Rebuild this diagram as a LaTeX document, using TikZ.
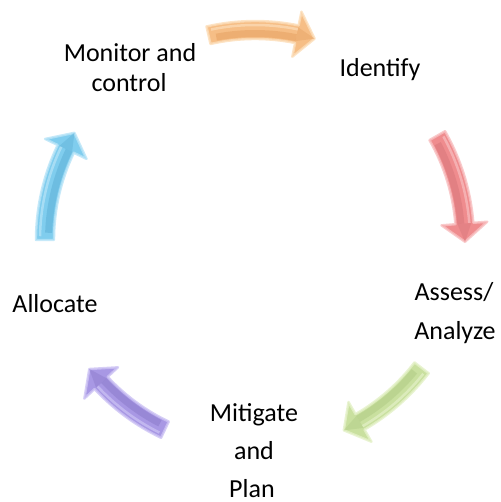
\documentclass[tikz,border=0pt]{standalone}
\usepackage{fontspec}
\setmainfont{Carlito}
\usetikzlibrary{calc}
\definecolor{orB}{HTML}{F6BE86}\definecolor{orL}{HTML}{FCDDB8}\definecolor{orD}{HTML}{E6A263}
\definecolor{reB}{HTML}{EF8C8E}\definecolor{reL}{HTML}{F8BFC0}\definecolor{reD}{HTML}{D8777B}
\definecolor{grB}{HTML}{C9E09F}\definecolor{grL}{HTML}{E4F1C8}\definecolor{grD}{HTML}{B0CB85}
\definecolor{puB}{HTML}{A898E4}\definecolor{puL}{HTML}{CDC3F4}\definecolor{puD}{HTML}{8C7BCB}
\definecolor{blB}{HTML}{80CDEE}\definecolor{blL}{HTML}{B8E4F7}\definecolor{blD}{HTML}{5FB1D7}
\tikzset{lbl/.style={font=\fontsize{26}{31}\selectfont, align=center, inner sep=0pt, text=black}}
\newcommand\cycarrow[3]{%
  \pgfmathsetmacro\hb{#3+5}%
  \pgfmathsetmacro\ta{#2-2}%
  \pgfmathsetmacro\tb{#2-1}%
  \path[fill=#1B, draw=#1L, line width=2.4, line join=round, draw opacity=0.8]
    ($(O)+(#2:219)$) arc[start angle=#2, end angle=\hb, radius=219]
    -- ($(O)+(\hb:233)$) -- ($(O)+(#3:210)$) -- ($(O)+(\hb:187)$)
    -- ($(O)+(\hb:201)$) arc[start angle=\hb, end angle=#2, radius=201] -- cycle;
  \draw[#1D, line width=7, opacity=0.55] ($(O)+(\ta:206.5)$) arc[start angle=\ta, end angle=\hb, radius=206.5];
  \draw[#1L, line width=2.5, opacity=0.7] ($(O)+(\tb:215)$) arc[start angle=\tb, end angle=\hb, radius=215];
  \fill[#1D, opacity=0.45] ($(O)+(\hb:203)$) -- ($(O)+(#3:210)$) -- ($(O)+(\hb:217)$) -- cycle;
}
\begin{document}
\begin{tikzpicture}[x=1pt,y=1pt]
\useasboundingbox (0,0) rectangle (500,502);
\coordinate (O) at (255,262);
\cycarrow{or}{102.8}{73.5}
\cycarrow{re}{29.8}{-0.5}
\cycarrow{gr}{-37.5}{-65}
\cycarrow{pu}{244.6}{217.9}
\cycarrow{bl}{180}{149.3}
\node[lbl, anchor=base] (identify) at (380,425) {Identify};
\node[lbl, anchor=base] (assess1) at (454,201) {Assess/};
\node[lbl, anchor=base] (assess2) at (455,162) {Analyze};
\node[lbl, anchor=base] (allocate) at (55,189) {Allocate};
\node[lbl, anchor=base] (mitigate1) at (254,80) {Mitigate};
\node[lbl, anchor=base] (mitigate2) at (254,42) {and};
\node[lbl, anchor=base] (mitigate3) at (252,5) {Plan};
\node[lbl, anchor=base] (monitor1) at (130,440) {Monitor and};
\node[lbl, anchor=base] (monitor2) at (129,410) {control};
\end{tikzpicture}
\end{document}
